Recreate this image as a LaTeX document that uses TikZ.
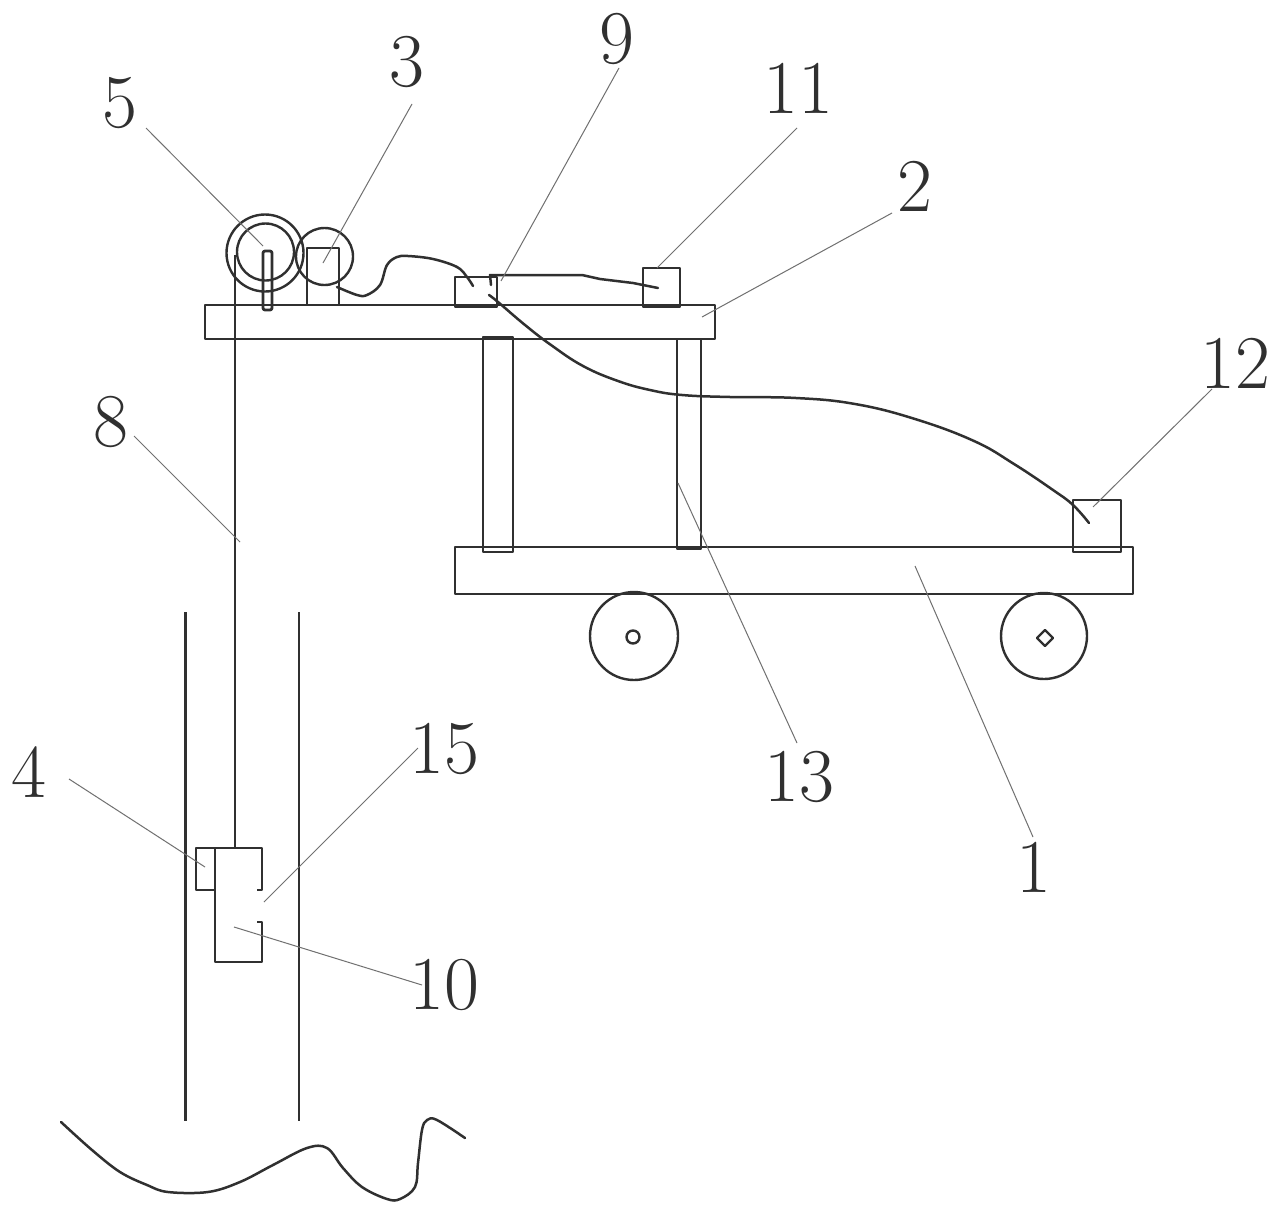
\documentclass[tikz,border=0pt]{standalone}
\tikzset{
  part/.style={draw=ink,line width=2.8pt,line join=round},
  thinpart/.style={draw=ink,line width=2.4pt,line join=round},
  wire/.style={draw=ink,line width=2.5pt,line cap=round,line join=round},
  leader/.style={draw=leadgray,line width=1pt},
  num/.style={inner sep=0pt,outer sep=0pt,text=ink,font=\fontsize{76}{76}\selectfont}
}
\definecolor{ink}{HTML}{303030}
\definecolor{leadgray}{HTML}{707070}
\begin{document}
\begin{tikzpicture}[x=1pt,y=-1pt]
\useasboundingbox[fill=white] (0,0) rectangle (1279,1215);
% platform and carriage
\draw[part] (205,305) rectangle (715,339);
\draw[part] (455,547) rectangle (1133,594);
\draw[part] (483,337) rectangle (513,552);
\draw[part] (677,339) rectangle (701,549);
% wheels
\draw[thinpart] (634,636) circle[radius=44];
\draw[thinpart] (633,637) circle[radius=6.5];
\draw[thinpart] (1044,636) circle[radius=43];
\draw[thinpart] (1037,638) -- (1045,630) -- (1053,638) -- (1045,646) -- cycle;
% reel, post and motor
\draw[thinpart] (265,253) circle[radius=38.5];
\draw[thinpart] (265.5,252) circle[radius=28.5];
\draw[part,rounded corners=2pt] (263,251) rectangle (272,310);
\draw[thinpart] (324.5,256.5) circle[radius=28.5];
\draw[part] (307,305) -- (307,248) -- (339,248) -- (339,305);
% boxes on the platform
\draw[part] (455,277) rectangle (497,307);
\draw[part] (643,268) rectangle (680,307);
\draw[part] (1073,500) rectangle (1121,552);
% rope and shaft
\draw[part] (235,255) -- (235,847);
\draw[part] (185.5,612) -- (185.5,1121);
\draw[part] (299,612) -- (299,1121);
% clamp
\draw[part] (215,890) -- (196,890) -- (196,848) -- (215,848);
\draw[part] (257,890) -- (262,890) -- (262,848) -- (215,848) -- (215,962) -- (262,962) -- (262,922) -- (257,922);
% cables
\draw[wire] plot[smooth,tension=0.6] coordinates {(337,287) (357,295) (367,295) (380,285) (387,265) (397,257) (408,256) (433,259) (457,267) (467,277) (473,286)};
\draw[wire] (491,285) -- (490,275) -- (582,275) -- (600,279) -- (633,283) -- (658,288);
\draw[wire] plot[smooth,tension=0.7] coordinates {(489,295) (498,302) (525,325) (551,345) (583,366) (618,381) (650,390) (682,395) (730,397) (796,398) (855,404) (915,419) (974,441) (1014,464) (1053,490) (1073,505) (1089,523)};
% ground line
\draw[wire] plot[smooth,tension=0.6] coordinates {(61,1122) (92,1150) (120,1172) (147,1185) (168,1192) (208,1192) (240,1182) (273,1165) (307,1148) (327,1148) (343,1168) (362,1187) (387,1199) (400,1199) (415,1187) (418,1163) (422,1130) (427,1120) (437,1120) (465,1138)};
% labels
\node[num] (l5) at (120,103) {5};
\node[num] (l3) at (407,62) {3};
\node[num] (l9) at (617,39) {9};
\node[num] (l11) at (798,88) {11};
\node[num] (l2) at (915,186) {2};
\node[num] (l12) at (1235,363) {12};
\node[num] (l13) at (799,777) {13};
\node[num] (l1) at (1034,867) {1};
\node[num] (l15) at (444,749) {15};
\node[num] (l10) at (444,985) {10};
\node[num] (l4) at (29,772) {4};
\node[num] (l8) at (111,422) {8};
% leader targets
\coordinate (t5) at (263,246);
\coordinate (t3) at (323,263);
\coordinate (t9) at (501,281);
\coordinate (t11) at (657,268);
\coordinate (t2) at (702,317);
\coordinate (t12) at (1093,507);
\coordinate (t13) at (678,483);
\coordinate (t1) at (915,566);
\coordinate (t15) at (264,902);
\coordinate (t10) at (234,927);
\coordinate (t4) at (205,867);
\coordinate (t8) at (240,542);
% leaders
\draw[leader] ([shift={(26,25)}]l5.center) -- (t5);
\draw[leader] ([shift={(5,42)}]l3.center) -- (t3);
\draw[leader] ([shift={(2,29)}]l9.center) -- (t9);
\draw[leader] ([shift={(-1,40)}]l11.center) -- (t11);
\draw[leader] ([shift={(-23,27)}]l2.center) -- (t2);
\draw[leader] ([shift={(-23,26)}]l12.center) -- (t12);
\draw[leader] ([shift={(-2,-34)}]l13.center) -- (t13);
\draw[leader] ([shift={(-1,-30)}]l1.center) -- (t1);
\draw[leader] ([shift={(-26,-1)}]l15.center) -- (t15);
\draw[leader] ([shift={(-22,0)}]l10.center) -- (t10);
\draw[leader] ([shift={(40,7)}]l4.center) -- (t4);
\draw[leader] ([shift={(23,14)}]l8.center) -- (t8);
\end{tikzpicture}
\end{document}
